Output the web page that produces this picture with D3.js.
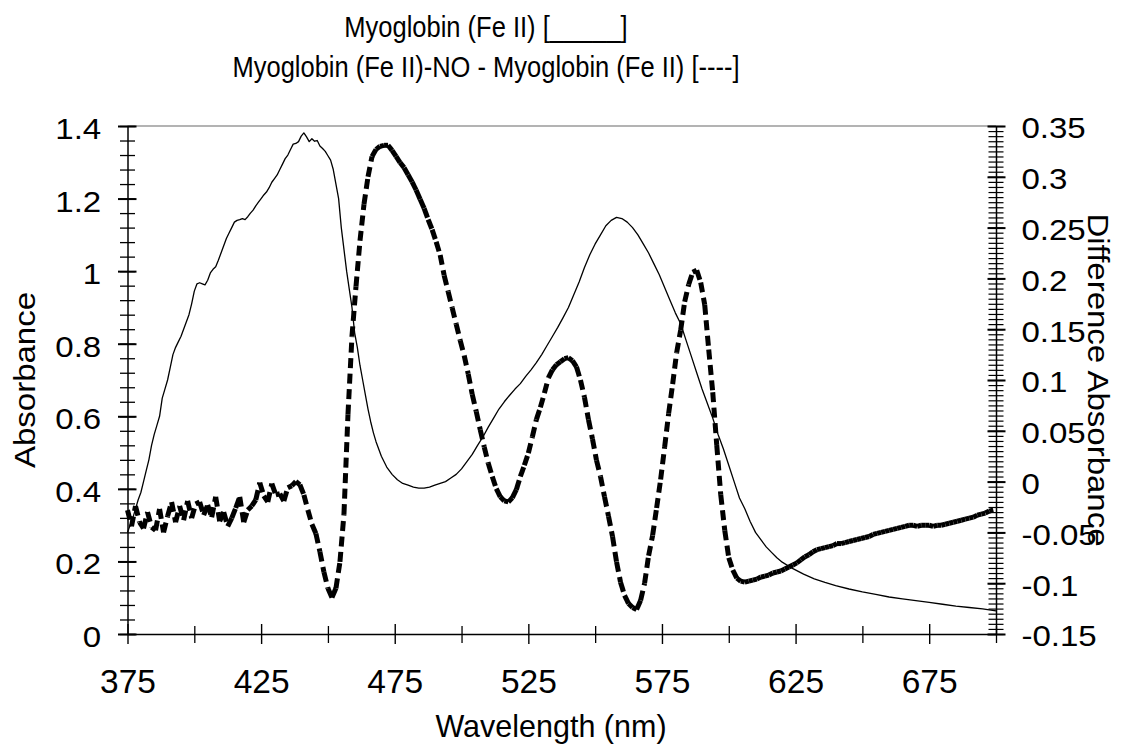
<!DOCTYPE html>
<html>
<head>
<meta charset="utf-8">
<script src="https://cdn.jsdelivr.net/npm/d3@7"></script>
<style>
  html, body { margin: 0; padding: 0; background: #fff; }
  svg { display: block; font-family: "Liberation Sans", Arial, Helvetica, sans-serif; }
</style>
</head>
<body>
<svg id="chart" width="1122" height="749"></svg>
<script>
// ---- Data ---------------------------------------------------------------

// Myoglobin (Fe II) absorbance spectrum, left axis
const absWavelength = [
  375,376,377,378,379,380,381,382,383,384,385,386,387,388,389,390,391,392,393,394,
  395,396,397,398,399,400,401,402,403,404,405,406,407,408,409,410,411,412,413,414,
  415,416,417,418,419,420,421,422,423,424,425,426,427,428,429,430,431,432,433,434,
  435,436,437,438,439,440,441,442,443,444,445,446,447,448,449,450,451,452,453,454,
  455,456,457,458,459,460,461,462,463,464,465,466,467,468,470,472,474,476,478,480,
  482,484,486,488,490,492,494,496,498,500,502,504,506,508,510,512,514,516,518,520,
  522,524,526,528,530,532,534,536,538,540,542,544,546,548,550,552,554,556,558,560,
  562,564,566,568,570,572,574,576,578,580,582,584,586,588,590,592,594,596,598,600,
  602,604,606,608,610,612,614,616,618,620,624,628,632,636,640,645,650,655,660,665,
  670,675,680,685,690,695,700
];
const absValue = [
  0.28,0.30,0.32,0.345,0.37,0.39,0.42,0.45,0.48,0.52,0.55,0.575,0.60,0.65,0.675,0.70,0.735,0.77,0.79,0.805,
  0.82,0.84,0.86,0.88,0.91,0.945,0.965,0.968,0.965,0.962,0.975,0.995,1.005,1.012,1.03,1.05,1.07,1.09,1.105,1.12,
  1.135,1.14,1.142,1.145,1.142,1.15,1.16,1.168,1.18,1.19,1.20,1.21,1.218,1.23,1.245,1.255,1.265,1.28,1.295,1.31,
  1.32,1.335,1.35,1.352,1.357,1.372,1.381,1.37,1.357,1.365,1.358,1.36,1.345,1.338,1.33,1.318,1.306,1.28,1.24,1.20,
  1.12,1.06,1.00,0.95,0.90,0.83,0.79,0.74,0.70,0.66,0.62,0.585,0.555,0.53,0.49,0.46,0.44,0.425,0.415,0.41,
  0.405,0.402,0.402,0.405,0.41,0.415,0.42,0.43,0.44,0.455,0.475,0.495,0.52,0.543,0.57,0.595,0.62,0.64,0.658,0.675,
  0.69,0.71,0.728,0.748,0.77,0.795,0.82,0.845,0.872,0.90,0.935,0.97,1.01,1.045,1.075,1.10,1.125,1.14,1.148,1.145,
  1.135,1.12,1.10,1.075,1.05,1.02,0.99,0.955,0.92,0.885,0.855,0.81,0.765,0.72,0.675,0.635,0.595,0.55,0.51,0.465,
  0.42,0.375,0.345,0.31,0.28,0.26,0.24,0.225,0.21,0.198,0.18,0.165,0.152,0.142,0.133,0.124,0.116,0.109,0.102,0.097,
  0.092,0.087,0.082,0.077,0.073,0.069,0.064
];

// Myoglobin (Fe II)-NO minus Myoglobin (Fe II) difference spectrum, right axis,
// sampled every 1.5 nm starting at 375 nm
const diffStart = 375;
const diffStep = 1.5;
const diffValue = [
  -0.028,-0.044,-0.024,-0.040,-0.046,-0.030,-0.045,-0.048,-0.027,-0.050,
  -0.034,-0.020,-0.040,-0.024,-0.038,-0.019,-0.036,-0.022,-0.020,-0.033,
  -0.023,-0.035,-0.015,-0.039,-0.030,-0.044,-0.036,-0.026,-0.015,-0.040,
  -0.028,-0.024,-0.018,-0.001,-0.014,-0.020,-0.002,-0.013,-0.012,-0.019,
  -0.006,-0.004, 0.000,-0.003,-0.013,-0.028,-0.042,-0.051,-0.069,-0.089,
  -0.105,-0.114,-0.105,-0.079,-0.032, 0.066, 0.143, 0.192, 0.237, 0.273,
   0.300, 0.320, 0.327, 0.330, 0.331, 0.331, 0.326, 0.320, 0.314, 0.309,
   0.302, 0.295, 0.287, 0.278, 0.269, 0.258, 0.248, 0.236, 0.223, 0.203,
   0.187, 0.171, 0.155, 0.139, 0.124, 0.106, 0.086, 0.069, 0.051, 0.034,
   0.018, 0.005,-0.007,-0.015,-0.019,-0.020,-0.016,-0.008, 0.005, 0.016,
   0.028, 0.044, 0.061, 0.073, 0.087, 0.102, 0.110, 0.115, 0.118, 0.121,
   0.122, 0.119, 0.113, 0.100, 0.083, 0.061, 0.042, 0.021, 0.005,-0.015,
  -0.034,-0.054,-0.079,-0.099,-0.112,-0.120,-0.124,-0.126,-0.117,-0.100,
  -0.073,-0.053,-0.026, 0.002, 0.034, 0.067, 0.096, 0.127, 0.149, 0.177,
   0.194, 0.206, 0.208, 0.196, 0.174, 0.130, 0.088, 0.036,-0.013,-0.048,
  -0.075,-0.087,-0.095,-0.098,-0.099,-0.098,-0.097,-0.096,-0.094,-0.093,
  -0.092,-0.090,-0.089,-0.088,-0.086,-0.084,-0.082,-0.080,-0.077,-0.074,
  -0.072,-0.069,-0.067,-0.066,-0.065,-0.064,-0.063,-0.061,-0.061,-0.060,
  -0.059,-0.058,-0.057,-0.056,-0.055,-0.054,-0.052,-0.051,-0.050,-0.049,
  -0.048,-0.047,-0.046,-0.045,-0.044,-0.043,-0.043,-0.044,-0.043,-0.043,
  -0.043,-0.044,-0.043,-0.043,-0.042,-0.041,-0.040,-0.039,-0.038,-0.037,
  -0.036,-0.035,-0.033,-0.032,-0.031,-0.029,-0.028
];

// Axis ticks and labels
const xTickLabels = ["375","425","475","525","575","625","675"];
const leftTickLabels = ["0","0.2","0.4","0.6","0.8","1","1.2","1.4"];
const rightTickLabels = ["-0.15","-0.1","-0.05","0","0.05","0.1","0.15","0.2","0.25","0.3","0.35"];
const titleLines = ["Myoglobin (Fe II) [_____]", "Myoglobin (Fe II)-NO - Myoglobin (Fe II) [----]"];
const xTitle = "Wavelength (nm)";
const leftTitle = "Absorbance";
const rightTitle = "Difference Absorbance";

// ---- Layout -------------------------------------------------------------
const plot = { left: 127.5, right: 996, top: 126, bottom: 634 };
const svg = d3.select("#chart");

const x = d3.scaleLinear().domain([375, 700]).range([plot.left, plot.right]);
const yL = d3.scaleLinear().domain([0, 1.4]).range([plot.bottom, plot.top]);
const yR = d3.scaleLinear().domain([-0.15, 0.35]).range([plot.bottom, plot.top]);

const FONT = "'Liberation Sans', Arial, Helvetica, sans-serif";

// ---- Title --------------------------------------------------------------
svg.append("g").selectAll("text").data(titleLines).join("text")
  .attr("transform", (d, i) => `translate(486,${36.7 + i * 40}) scale(0.85,1)`)
  .attr("text-anchor", "middle")
  .attr("font-size", 30)
  .attr("fill", "#000")
  .text(d => d);

// ---- Frame top line -----------------------------------------------------
svg.append("line")
  .attr("x1", plot.left).attr("x2", plot.right)
  .attr("y1", plot.top).attr("y2", plot.top)
  .attr("stroke", "#9a9a9a").attr("stroke-width", 1.5);

// ---- Bottom axis --------------------------------------------------------
const xMajor = xTickLabels.map(Number);
const xMinor = d3.range(400, 701, 50);
const gx = svg.append("g").attr("transform", `translate(0,${plot.bottom})`);
gx.append("g")
  .call(d3.axisBottom(x).tickValues(xMinor).tickFormat("").tickSizeOuter(0))
  .call(g => g.select(".domain").remove())
  .call(g => g.selectAll("line").attr("y1", -8).attr("y2", 9).attr("stroke", "#000").attr("stroke-width", 1.3));
gx.append("g")
  .call(d3.axisBottom(x).tickValues(xMajor).tickFormat((d, i) => xTickLabels[i]).tickSizeOuter(0))
  .attr("font-family", FONT).attr("font-size", 33.5)
  .call(g => g.select(".domain").attr("stroke", "#000").attr("stroke-width", 1.4))
  .call(g => g.selectAll("line").attr("y1", -10).attr("y2", 10).attr("stroke", "#000").attr("stroke-width", 1.4))
  .call(g => g.selectAll("text").attr("dy", null).attr("y", 59.3).attr("fill", "#000"));

// ---- Left axis ----------------------------------------------------------
const leftMajor = leftTickLabels.map(Number);
const leftMinor = d3.range(36).map(i => i * 0.04);
const gl = svg.append("g").attr("transform", `translate(${plot.left},0)`);
gl.append("g")
  .call(d3.axisLeft(yL).tickValues(leftMinor).tickFormat("").tickSizeOuter(0))
  .call(g => g.select(".domain").remove())
  .call(g => g.selectAll("line").attr("x1", 7.5).attr("x2", -7.5).attr("stroke", "#000").attr("stroke-width", 1.3));
gl.append("g")
  .call(d3.axisLeft(yL).tickValues(leftMajor).tickFormat((d, i) => leftTickLabels[i]).tickSizeOuter(0))
  .attr("font-family", FONT).attr("font-size", 29)
  .call(g => g.select(".domain").attr("stroke", "#000").attr("stroke-width", 1.5))
  .call(g => g.selectAll("line").attr("x1", 9).attr("x2", -9.5).attr("stroke", "#000").attr("stroke-width", 2))
  .call(g => g.selectAll("text")
    .attr("transform", "scale(1.14,1)")
    .attr("x", -26.3 / 1.14).attr("dy", null).attr("y", 12.5).attr("fill", "#000"));

// ---- Right axis ---------------------------------------------------------
const rightMajor = rightTickLabels.map(Number);
const rightMinor = d3.range(101).map(i => -0.15 + i * 0.005);
const gr = svg.append("g").attr("transform", `translate(${plot.right},0)`);
gr.append("g")
  .call(d3.axisRight(yR).tickValues(rightMinor).tickFormat("").tickSizeOuter(0))
  .call(g => g.select(".domain").remove())
  .call(g => g.selectAll("line").attr("x1", -7.5).attr("x2", 7.5).attr("stroke", "#000").attr("stroke-width", 1.2));
gr.append("g")
  .call(d3.axisRight(yR).tickValues(rightMajor).tickFormat((d, i) => rightTickLabels[i]).tickSizeOuter(0))
  .attr("font-family", FONT).attr("font-size", 29)
  .call(g => g.select(".domain").attr("stroke", "#000").attr("stroke-width", 1.5))
  .call(g => g.selectAll("line").attr("x1", -8.5).attr("x2", 9.5).attr("stroke", "#000").attr("stroke-width", 2))
  .call(g => g.selectAll("text")
    .attr("transform", "scale(1.14,1)")
    .attr("x", 25.4 / 1.14).attr("dy", null).attr("y", 11.8).attr("fill", "#000"));

// ---- Axis titles --------------------------------------------------------
svg.append("text")
  .attr("transform", "translate(551,737.3)")
  .attr("text-anchor", "middle").attr("font-size", 30.5).attr("fill", "#000")
  .text(xTitle);
svg.append("text")
  .attr("transform", "translate(35,380) rotate(-90) scale(1.1,1)")
  .attr("text-anchor", "middle").attr("font-size", 30).attr("fill", "#000")
  .text(leftTitle);
svg.append("text")
  .attr("transform", "translate(1088,380) rotate(90) scale(1.1,1)")
  .attr("text-anchor", "middle").attr("font-size", 30).attr("fill", "#000")
  .text(rightTitle);

// ---- Difference spectrum: thick dashed trace -----------------------------
// Each sample-to-sample segment restarts the dash pattern, so densely sampled
// flat stretches draw solid while steep stretches break into dashes.
const diffPoints = diffValue.map((v, i) => [diffStart + i * diffStep, v]);
svg.append("g")
  .attr("stroke", "#000").attr("stroke-width", 5)
  .attr("stroke-dasharray", "10 5.5").attr("stroke-linecap", "butt")
  .selectAll("line").data(d3.pairs(diffPoints)).join("line")
  .attr("x1", d => x(d[0][0])).attr("y1", d => yR(d[0][1]))
  .attr("x2", d => x(d[1][0])).attr("y2", d => yR(d[1][1]));

// ---- Absorbance spectrum: thin solid trace ------------------------------
const absPoints = absWavelength.map((w, i) => [w, absValue[i]]);
svg.append("path")
  .datum(absPoints)
  .attr("fill", "none").attr("stroke", "#000").attr("stroke-width", 1.3)
  .attr("stroke-linejoin", "round")
  .attr("d", d3.line().x(d => x(d[0])).y(d => yL(d[1])));
</script>
</body>
</html>
